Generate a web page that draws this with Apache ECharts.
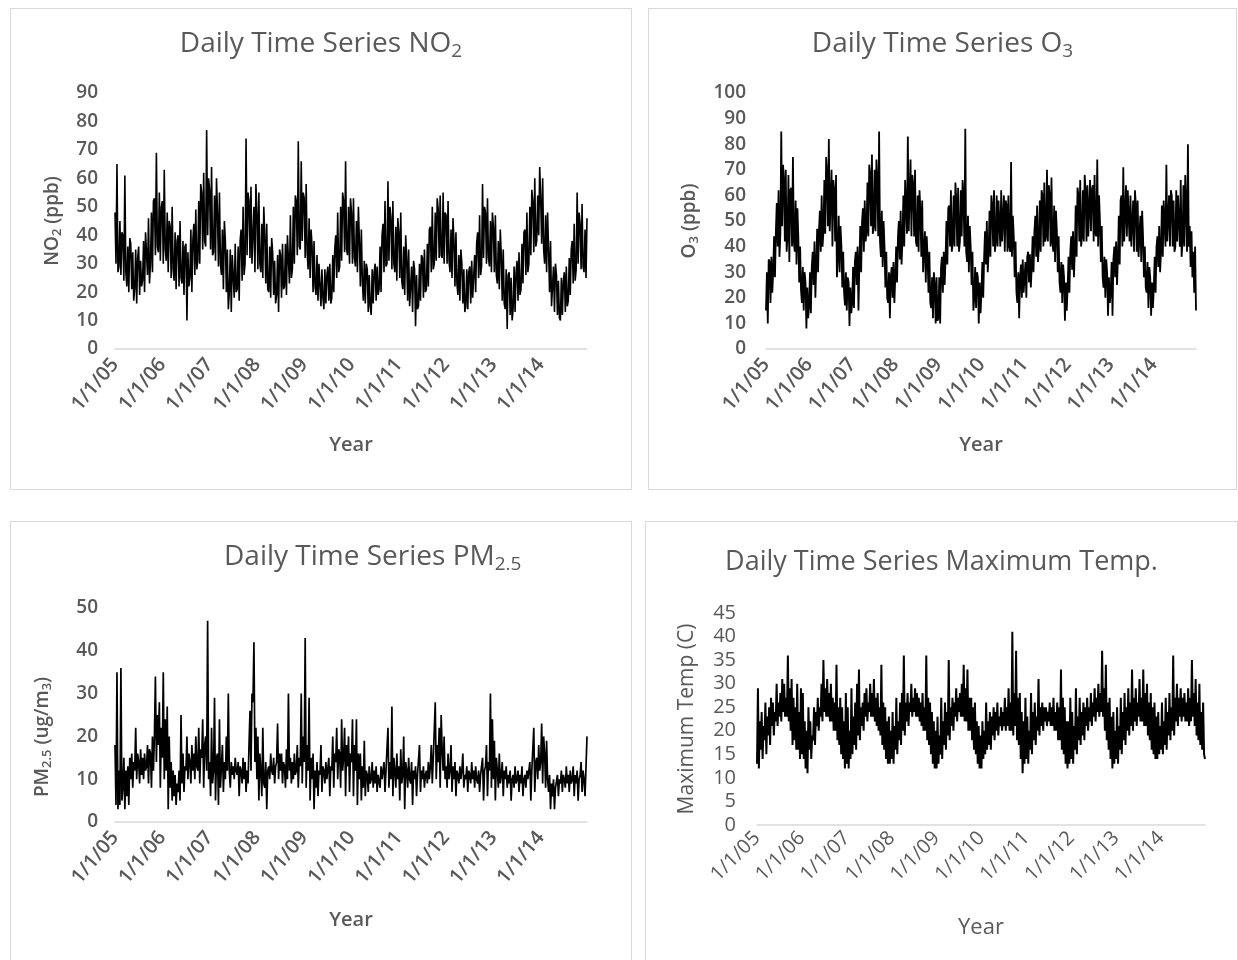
<!DOCTYPE html>
<html>
<head>
<meta charset="utf-8">
<title>Daily Time Series</title>
<script src="https://cdn.jsdelivr.net/npm/echarts@6/dist/echarts.min.js"></script>
<style>
  body { margin: 0; background: #fff; width: 1238px; height: 960px; position: relative; overflow: hidden; }
  .panel { position: absolute; border: 1px solid #d9d9d9; box-sizing: border-box; background: #fff; }
</style>
</head>
<body>
<div id="p1" class="panel" style="left:10px;top:8px;width:622px;height:482px"></div>
<div id="p2" class="panel" style="left:648px;top:8px;width:589px;height:482px"></div>
<div id="p3" class="panel" style="left:10px;top:521px;width:622px;height:445px"></div>
<div id="p4" class="panel" style="left:645px;top:521px;width:593px;height:445px"></div>
<script>
// 2005-2014, four readings per month (roughly weekly)
const START_YY = 5;
const YEARS = 10;
const PER_MONTH = 4;

// NO2 (ppb)
const no2 = [
  48,30,65,27, 29,45,26,41, 40,24,61,27, 22,36,20,39, 37,21,34,17, 21,35,16,32, 36,19,31,22, 24,38,20,41, 41,26,46,23, 30,48,27,52, 53,33,69,36, 34,55,31,50,
  52,30,63,35, 31,48,27,45, 43,25,50,28, 24,41,21,38, 40,22,45,25, 23,38,19,36, 37,10,34,22, 25,42,20,38, 44,26,49,28, 31,52,30,58, 55,35,62,38, 36,77,40,60,
  56,35,64,33, 34,54,31,60, 48,29,55,30, 26,42,21,45, 38,20,35,14, 20,35,13,33, 33,18,37,20, 21,36,17,38, 42,24,50,26, 30,74,33,55, 52,32,57,30, 30,50,27,58,
  48,28,55,30, 27,44,25,50, 40,23,44,21, 20,36,18,39, 34,19,31,16, 19,33,13,35, 33,18,37,21, 22,37,19,40, 40,23,47,25, 28,50,30,54, 52,33,73,36, 35,66,38,55,
  53,32,58,34, 28,46,25,42, 36,20,38,22, 19,33,17,30, 30,15,28,18, 14,28,16,26, 29,17,30,16, 18,33,20,35, 40,25,48,27, 29,50,31,55, 52,34,66,35, 33,50,30,53,
  48,30,53,32, 29,45,27,50, 38,22,42,24, 17,31,16,30, 28,13,26,15, 12,28,16,27, 30,17,29,19, 21,36,20,40, 44,27,52,29, 30,59,31,50, 46,28,52,30, 27,43,24,46,
  41,25,48,24, 21,36,19,40, 32,17,35,15, 15,29,13,31, 28,8,26,14, 15,30,17,33, 32,18,35,20, 21,37,22,42, 43,27,50,28, 30,48,31,53, 49,32,54,33, 32,55,30,48,
  47,30,52,31, 27,42,25,46, 38,22,41,23, 19,33,17,35, 30,16,28,13, 15,28,14,27, 29,16,31,18, 18,33,20,37, 41,25,47,26, 29,58,32,50, 48,30,53,32, 29,45,27,48,
  43,27,47,26, 23,38,21,42, 33,17,35,16, 14,28,7,26, 27,12,25,10, 14,29,13,27, 31,17,34,19, 21,37,23,41, 42,26,48,27, 30,50,33,56, 52,34,60,36, 38,54,40,64,
  53,37,60,35, 30,47,27,48, 35,20,38,15, 15,29,13,30, 26,12,24,11, 10,25,12,24, 27,13,29,15, 17,32,19,35, 38,23,44,24, 28,55,30,48, 44,28,51,29, 27,42,25,46
];

// O3 (ppb)
const o3 = [
  15,30,10,35, 34,18,36,22, 30,44,28,46, 57,40,62,36, 45,85,48,72, 66,42,70,38, 44,68,34,62, 63,40,75,42, 38,58,33,55, 44,26,40,23, 18,32,15,30, 26,8,24,12,
  17,30,14,32, 38,25,42,20, 33,47,30,46, 54,38,60,40, 46,66,45,75, 68,48,82,46, 46,70,40,66, 62,42,68,28, 36,52,30,48, 40,24,38,22, 17,30,15,28, 26,9,24,14,
  18,32,16,34, 38,25,40,15, 33,48,30,50, 55,38,58,42, 46,65,44,72, 68,48,76,45, 48,70,46,74, 66,44,85,42, 36,54,32,50, 40,24,38,20, 18,30,12,28, 32,20,34,18,
  28,40,26,44, 50,35,54,33, 42,60,40,66, 66,45,83,46, 46,74,44,68, 64,44,70,42, 40,60,38,62, 54,36,58,30, 30,46,26,44, 36,22,38,18, 16,28,12,30, 25,10,28,11,
  12,28,10,32, 36,22,38,25, 35,50,33,55, 56,40,62,38, 42,60,40,65, 58,40,63,38, 42,62,44,66, 60,40,86,38, 34,52,30,48, 40,25,38,15, 20,32,16,30, 28,10,26,14,
  22,34,20,36, 46,33,50,30, 38,54,36,60, 56,40,62,38, 42,60,40,58, 58,40,62,42, 42,60,38,58, 56,38,60,40, 38,73,36,52, 44,28,42,22, 18,30,12,28, 33,20,35,22,
  22,34,20,36, 38,26,37,24, 32,44,30,46, 52,36,56,34, 40,58,38,62, 60,40,65,42, 44,70,42,64, 60,40,67,42, 38,56,34,54, 46,30,44,26, 22,34,18,33, 28,11,26,15,
  24,36,22,38, 44,31,46,28, 38,56,36,63, 60,42,66,40, 44,62,42,68, 62,42,64,44, 44,66,46,62, 64,42,68,45, 44,74,40,60, 50,34,48,28, 24,36,20,35, 30,13,28,18,
  22,34,13,35, 40,28,42,25, 35,52,33,58, 60,40,71,42, 42,64,44,62, 62,42,60,40, 40,58,38,62, 56,38,58,36, 36,52,34,54, 44,28,40,24, 22,34,16,32, 28,13,26,16,
  24,36,22,40, 44,32,48,30, 38,56,36,58, 58,40,72,42, 42,60,40,62, 60,40,58,38, 40,62,42,60, 60,40,66,36, 42,64,40,68, 56,38,80,40, 48,32,46,28, 38,22,40,15
];

// PM2.5 (ug/m3)
const pm25 = [
  18,4,35,3, 12,4,36,5, 8,15,3,12, 6,13,4,15, 10,16,8,14, 12,22,10,16, 14,9,17,11, 15,10,16,12, 13,18,9,17, 16,8,20,12, 20,34,14,25, 18,28,8,22,
  15,35,10,24, 12,27,3,20, 8,14,5,12, 6,11,4,9, 7,12,5,25, 9,16,7,13, 12,20,10,16, 14,9,18,12, 16,10,20,13, 12,22,9,17, 15,24,8,18, 20,12,47,10,
  14,6,22,9, 12,29,5,15, 16,4,24,8, 13,18,7,14, 10,20,12,30, 12,8,14,11, 13,10,15,12, 11,14,6,13, 12,9,15,10, 14,7,12,9, 18,26,12,30, 28,42,14,22,
  10,20,5,16, 12,6,22,9, 8,14,3,12, 13,10,16,12, 11,15,9,13, 14,23,10,16, 12,16,9,14, 13,8,17,10, 30,12,15,9, 14,10,16,11, 12,18,8,15, 13,30,9,20,
  14,43,8,18, 12,29,5,15, 10,16,3,12, 8,14,6,12, 11,18,7,13, 12,9,14,10, 10,15,6,13, 12,20,8,16, 14,22,10,17, 16,8,24,12, 15,22,6,18, 13,20,7,16,
  14,24,6,18, 12,24,4,16, 10,16,5,13, 8,19,6,12, 11,7,13,9, 10,14,8,12, 9,13,7,11, 11,8,13,10, 10,14,7,12, 12,22,8,14, 10,27,6,15, 12,8,16,10,
  13,5,17,9, 11,20,3,14, 12,8,15,10, 9,14,4,12, 10,13,6,11, 11,18,7,12, 10,13,8,11, 12,9,14,10, 13,18,9,15, 15,28,10,18, 14,22,8,25, 17,12,20,10,
  13,8,16,10, 12,18,7,13, 10,14,6,12, 11,9,13,10, 12,16,8,11, 10,13,7,12, 11,9,14,10, 12,8,13,10, 9,12,7,11, 11,15,5,12, 13,18,6,14, 12,30,8,24,
  10,19,5,15, 12,8,16,9, 11,14,6,12, 10,13,8,11, 9,12,5,10, 11,8,13,9, 10,12,7,11, 9,13,6,10, 11,8,12,10, 10,14,5,12, 12,22,7,14, 15,10,18,12,
  14,23,9,20, 16,8,19,10, 7,11,3,9, 6,10,3,8, 8,11,6,10, 9,12,7,11, 10,8,13,9, 11,7,12,9, 10,13,6,11, 9,12,5,10, 11,14,7,12, 10,6,13,20
];

// Maximum temperature (C)
const tmax = [
  13,29,12,22, 16,24,14,21, 18,26,15,23, 19,25,17,27, 21,26,19,24, 22,30,21,26, 23,28,22,31, 24,30,23,27, 23,36,22,29, 20,31,17,27, 18,25,16,30, 16,24,14,29,
  15,28,14,22, 12,20,11,25, 16,22,14,19, 18,25,17,24, 21,27,20,25, 23,30,22,35, 24,29,23,31, 23,28,22,30, 22,27,20,26, 20,34,18,25, 17,27,15,25, 14,22,12,28,
  13,25,12,20, 14,29,15,23, 17,26,16,30, 19,33,18,25, 21,26,20,28, 23,29,22,26, 24,30,23,28, 23,31,22,27, 21,28,20,25, 19,34,17,26, 16,25,14,22, 13,23,13,20,
  14,24,13,21, 16,27,15,22, 18,26,17,28, 20,36,19,26, 22,28,21,26, 24,30,23,27, 24,29,23,28, 23,27,22,26, 21,28,20,25, 20,36,18,27, 17,26,15,24, 13,22,12,20,
  12,23,13,19, 15,27,14,22, 17,26,16,24, 19,35,18,25, 21,27,20,26, 23,29,22,27, 24,28,23,30, 23,34,22,29, 22,33,20,27, 20,27,18,25, 16,26,15,22, 13,21,12,19,
  12,22,14,20, 15,26,16,22, 17,24,16,23, 19,25,18,24, 20,26,19,23, 21,25,20,24, 21,27,20,25, 21,29,20,26, 20,41,19,28, 21,37,18,27, 17,28,14,24, 11,22,13,27,
  14,23,13,20, 16,28,15,24, 18,26,17,23, 20,31,19,25, 21,26,20,25, 22,25,21,24, 22,26,21,25, 21,27,20,24, 20,26,18,25, 18,33,16,27, 15,25,13,22, 12,22,13,27,
  14,24,13,21, 16,29,15,23, 18,27,17,24, 19,26,18,25, 21,27,20,25, 22,28,21,26, 23,29,22,27, 24,30,23,28, 24,37,23,29, 20,34,18,26, 16,27,14,23, 12,24,13,20,
  14,25,13,21, 16,27,15,24, 18,28,17,25, 20,29,19,26, 21,33,20,27, 22,29,21,26, 23,31,22,27, 22,33,21,28, 21,30,19,26, 18,28,16,25, 15,26,14,23, 14,24,15,21,
  16,26,15,22, 17,27,16,24, 19,28,18,25, 20,36,19,27, 22,30,21,27, 23,29,22,27, 23,28,22,26, 22,29,21,27, 22,35,23,28, 21,31,19,26, 18,30,17,24, 16,26,15,14
];

// date categories m/d/yy, one per reading
const dates = [];
for (let y = 0; y < YEARS; y++) {
  for (let m = 0; m < 12; m++) {
    for (let k = 0; k < PER_MONTH; k++) {
      dates.push((m + 1) + '/' + (1 + k * 7) + '/' + String(START_YY + y).padStart(2, '0'));
    }
  }
}

const FONT = '"Open Sans", "Liberation Sans", sans-serif';
const GRAY = '#595959';

// t = normal text, s = subscript (pushed down with top padding)
function richStyles(size, weight) {
  const sub = Math.round(size * 0.68);
  return {
    t: { fontSize: size, fontFamily: FONT, color: GRAY, fontWeight: weight, lineHeight: Math.round(size * 1.3) },
    s: { fontSize: sub, fontFamily: FONT, color: GRAY, fontWeight: weight, lineHeight: sub, padding: [Math.round(size * 0.55), 0, 0, 0] }
  };
}

function makePanel(id, cfg) {
  const chart = echarts.init(document.getElementById(id));
  chart.setOption({
    animation: false,
    title: {
      text: cfg.title,
      left: cfg.titleLeft,
      top: cfg.titleTop,
      textStyle: { rich: richStyles(cfg.titleSize, 'normal') }
    },
    grid: Object.assign({ outerBoundsMode: 'none', containLabel: false }, cfg.grid),
    xAxis: {
      type: 'category',
      data: dates,
      boundaryGap: false,
      name: 'Year',
      nameLocation: 'middle',
      nameGap: cfg.xNameGap,
      nameTextStyle: { fontFamily: FONT, fontSize: cfg.xNameSize, color: GRAY, fontWeight: cfg.weight },
      axisLine: { lineStyle: { color: '#d9d9d9', width: 1.5 } },
      axisTick: { show: false },
      axisLabel: {
        interval: 12 * PER_MONTH - 1,
        rotate: cfg.labelRotate,
        margin: cfg.xLabelMargin,
        fontFamily: FONT,
        fontSize: cfg.labelSize,
        fontWeight: cfg.weight,
        color: GRAY
      },
      splitLine: { show: false }
    },
    yAxis: {
      type: 'value',
      min: 0,
      max: cfg.max,
      interval: cfg.interval,
      name: cfg.yName,
      nameLocation: 'middle',
      nameGap: cfg.yNameGap,
      nameRotate: 90,
      nameTextStyle: { rich: richStyles(cfg.nameSize, cfg.weight), padding: cfg.yNamePadding || 0 },
      axisLine: { show: false },
      axisTick: { show: false },
      splitLine: { show: false },
      axisLabel: {
        margin: cfg.labelMargin,
        fontFamily: FONT,
        fontSize: cfg.yLabelSize,
        fontWeight: cfg.weight,
        color: GRAY
      }
    },
    series: [{
      type: 'line',
      data: cfg.data,
      showSymbol: false,
      symbol: 'none',
      lineStyle: { color: '#000', width: cfg.lineWidth },
      silent: true
    }]
  });
  return chart;
}

makePanel('p1', {
  title: '{t|Daily Time Series NO}{s|2}', titleLeft: 'center', titleTop: 12, titleSize: 28,
  grid: { left: 104, right: 44, top: 84, bottom: 140 },
  max: 90, interval: 10, data: no2, lineWidth: 1.6,
  yName: '{t|NO}{s|2}{t| (ppb)}', yNameGap: 50, xNameGap: 86, xNameSize: 20,
  weight: 600, nameSize: 19, labelSize: 20, labelRotate: 50, xLabelMargin: 12, yLabelSize: 19, labelMargin: 17
});

makePanel('p2', {
  title: '{t|Daily Time Series O}{s|3}', titleLeft: 'center', titleTop: 12, titleSize: 28,
  grid: { left: 117, right: 40, top: 84, bottom: 140 },
  max: 100, interval: 10, data: o3, lineWidth: 1.8,
  yName: '{t|O}{s|3}{t| (ppb)}', yNameGap: 64, xNameGap: 86, xNameSize: 20,
  weight: 600, nameSize: 19, labelSize: 20, labelRotate: 50, xLabelMargin: 12, yLabelSize: 19, labelMargin: 20
});

makePanel('p3', {
  title: '{t|Daily Time Series PM}{s|2.5}', titleLeft: 208, titleTop: 12, titleSize: 28,
  grid: { left: 104, right: 44, top: 86, bottom: 143 },
  max: 50, interval: 10, data: pm25, lineWidth: 1.7,
  yName: '{t|PM}{s|2.5}{t| (ug/m}{s|3}{t|)}', yNamePadding: [0, 44, 0, 0], yNameGap: 60, xNameGap: 88, xNameSize: 20,
  weight: 600, nameSize: 19, labelSize: 20, labelRotate: 50, xLabelMargin: 12, yLabelSize: 19, labelMargin: 17
});

makePanel('p4', {
  title: '{t|Daily Time Series Maximum Temp.}', titleLeft: 'center', titleTop: 18, titleSize: 27,
  grid: { left: 111, right: 32, top: 91, bottom: 140 },
  max: 45, interval: 5, data: tmax, lineWidth: 2,
  yName: '{t|Maximum Temp (C)}', yNameGap: 56, xNameGap: 92, xNameSize: 22,
  weight: 'normal', nameSize: 21, labelSize: 20, labelRotate: 45, xLabelMargin: 10, yLabelSize: 20, labelMargin: 21
});
</script>
</body>
</html>
